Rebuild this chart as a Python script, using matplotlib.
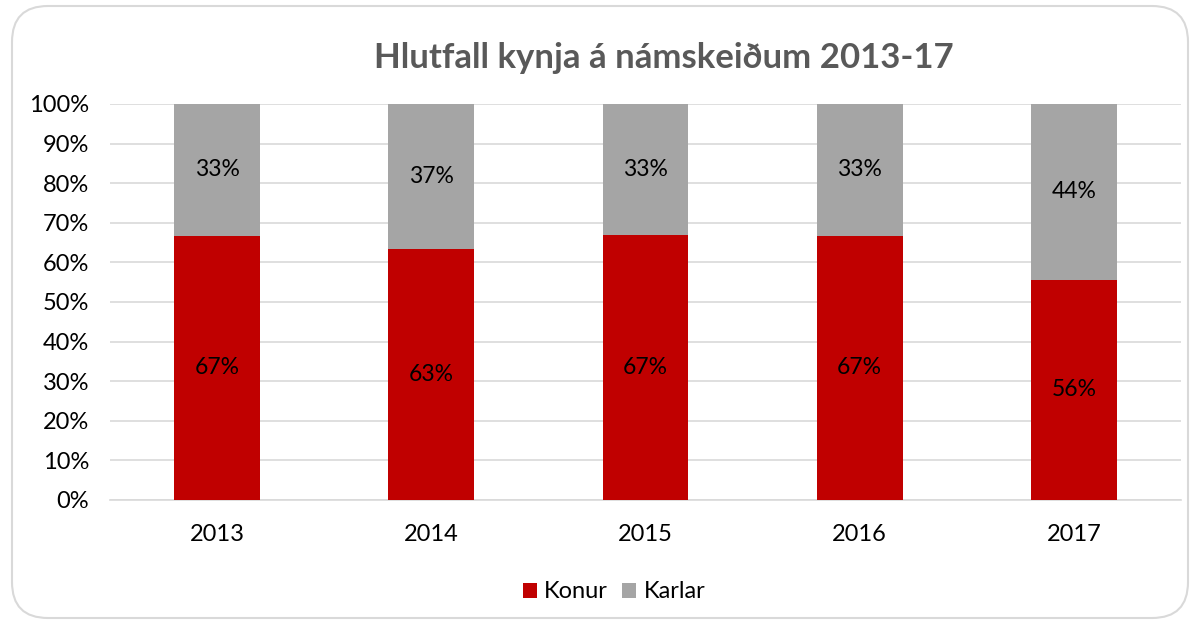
import matplotlib
matplotlib.use("Agg")
import matplotlib.pyplot as plt
from matplotlib.patches import FancyBboxPatch
from matplotlib.ticker import PercentFormatter

years = ["2013", "2014", "2015", "2016", "2017"]
konur = [66.7, 63.4, 66.9, 66.7, 55.6]
karlar = [33.3, 36.6, 33.1, 33.3, 44.4]
konur_labels = ["67%", "63%", "67%", "67%", "56%"]
karlar_labels = ["33%", "37%", "33%", "33%", "44%"]

plt.rcParams['font.family'] = ['Lato', 'DejaVu Sans']

fig = plt.figure(figsize=(12, 6.26), dpi=100)
fig.patch.set_facecolor('white')
border = FancyBboxPatch((12/1200, 8/626), 1176/1200, 612/626,
                        boxstyle="round,pad=0,rounding_size=0.03",
                        transform=fig.transFigure, facecolor='none',
                        edgecolor='#D9D9D9', linewidth=1.5, mutation_aspect=1200/626,
                        zorder=-5)
fig.patches.append(border)

ax = fig.add_axes([110/1200, 1 - 500/626, 1071/1200, 396/626])
ax.set_facecolor('none')
x = range(len(years))
b1 = ax.bar(x, konur, width=0.4, color='#C00000', label='Konur', zorder=3)
b2 = ax.bar(x, karlar, width=0.4, bottom=konur, color='#A5A5A5', label='Karlar', zorder=3)

for i in x:
    ax.text(i, konur[i] / 2, konur_labels[i], ha='center', va='center', fontsize=16.5, color='#000000', zorder=4)
    ax.text(i, konur[i] + karlar[i] / 2, karlar_labels[i], ha='center', va='center', fontsize=16.5, color='#000000', zorder=4)

ax.set_xlim(-0.5, 4.5)
ax.set_ylim(0, 100)
ax.set_yticks(range(0, 101, 10))
ax.yaxis.set_major_formatter(PercentFormatter(decimals=0))
ax.set_xticks(list(x))
ax.set_xticklabels(years)
ax.grid(axis='y', color='#D9D9D9', linewidth=1.2, zorder=0)
for s in ['top', 'right', 'left']:
    ax.spines[s].set_visible(False)
ax.spines['bottom'].set_color('#D9D9D9')
ax.spines['bottom'].set_linewidth(1.2)
ax.tick_params(axis='both', length=0, labelsize=17, colors='#000000')
ax.tick_params(axis='x', pad=17)
ax.tick_params(axis='y', pad=15)

fig.text(664/1200, 1 - 58/626, "Hlutfall kynja á námskeiðum 2013-17",
         ha='center', va='center', fontsize=25, fontweight='bold', color='#595959')

fig.legend(handles=[b1, b2], labels=['Konur', 'Karlar'], loc='center',
           bbox_to_anchor=(614/1200, 1 - 592/626), ncol=2, frameon=False,
           fontsize=17, handlelength=0.6, handleheight=0.6, handletextpad=0.3,
           columnspacing=0.6)

fig.savefig('out.png', dpi=100)
